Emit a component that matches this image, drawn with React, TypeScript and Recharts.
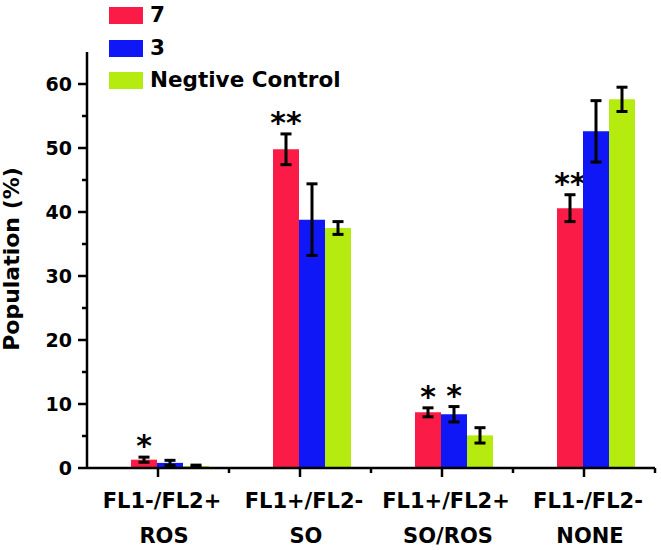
import React from 'react';
import { BarChart, Bar, XAxis, YAxis, Rectangle } from 'recharts';

const categories = ['FL1-/FL2+', 'FL1+/FL2-', 'FL1+/FL2+', 'FL1-/FL2-'];
const subLabels = ['ROS', 'SO', 'SO/ROS', 'NONE'];

const values7 = [1.3, 49.8, 8.7, 40.6];
const errors7 = [0.4, 2.4, 0.7, 2.1];
const stars7 = ['*', '**', '*', '**'];

const values3 = [0.8, 38.8, 8.4, 52.6];
const errors3 = [0.4, 5.6, 1.2, 4.8];
const stars3 = ['', '', '*', ''];

const valuesNeg = [0.3, 37.5, 5.1, 57.6];
const errorsNeg = [0.15, 1.0, 1.2, 1.9];
const starsNeg = ['', '', '', ''];

const yTicks = [0, 5, 10, 15, 20, 25, 30, 35, 40, 45, 50, 55, 60];

const FONT = '"DejaVu Sans", sans-serif';
const COLORS = { s7: '#FA1C46', s3: '#0F17F7', neg: '#B6EB0F' };

const data = categories.map((c, i) => ({
  name: c,
  sub: subLabels[i],
  v7: values7[i], e7: errors7[i], k7: stars7[i],
  v3: values3[i], e3: errors3[i], k3: stars3[i],
  vn: valuesNeg[i], en: errorsNeg[i], kn: starsNeg[i],
}));

// Origin-style grouping: first bar ends at the category tick
const SHIFT = 12;

const makeShape = (errKey: string, starKey: string) => (props: any) => {
  const { x, y, width, height, fill, payload, value } = props;
  const v = Array.isArray(value) ? value[1] - value[0] : value;
  const pxPerUnit = v ? height / v : 0;
  const err = payload[errKey] * pxPerUnit;
  const cx = x + SHIFT + width / 2;
  const top = y - err;
  const bot = y + err;
  const star = payload[starKey];
  return (
    <g>
      <Rectangle x={x + SHIFT} y={y} width={width} height={height} fill={fill} />
      <line x1={cx} x2={cx} y1={top} y2={bot} stroke="#000" strokeWidth={3} />
      <line x1={cx - 5.5} x2={cx + 5.5} y1={top} y2={top} stroke="#000" strokeWidth={3} />
      <line x1={cx - 5.5} x2={cx + 5.5} y1={bot} y2={bot} stroke="#000" strokeWidth={3} />
      {star && (
        <text x={cx} y={top - 1} textAnchor="middle" fontFamily={FONT} fontWeight="bold" fontSize={30} fill="#000">
          {star}
        </text>
      )}
    </g>
  );
};

const YTick = (props: any) => {
  const { x, y, payload } = props;
  const major = payload.value % 10 === 0;
  return (
    <g>
      <line x1={x - (major ? 9 : 5)} x2={x} y1={y} y2={y} stroke="#000" strokeWidth={2.5} />
      {major && (
        <text x={x - 15} y={y + 7} textAnchor="end" fontFamily={FONT} fontWeight="bold" fontSize={19} fill="#000">
          {payload.value}
        </text>
      )}
    </g>
  );
};

const XTick = (props: any) => {
  const { x, y, payload, index } = props;
  return (
    <g>
      <line x1={x} x2={x} y1={y} y2={y + 9} stroke="#000" strokeWidth={2.5} />
      <line x1={x + 71} x2={x + 71} y1={y} y2={y + 5} stroke="#000" strokeWidth={2.5} />
      <text x={x + 4} y={y + 40} textAnchor="middle" fontFamily={FONT} fontWeight="bold" fontSize={21} fill="#000">
        {payload.value}
      </text>
      <text x={x + 6} y={y + 75} textAnchor="middle" fontFamily={FONT} fontWeight="bold" fontSize={21} fill="#000">
        {subLabels[index]}
      </text>
    </g>
  );
};

const legendItems = [
  { label: '7', color: COLORS.s7 },
  { label: '3', color: COLORS.s3 },
  { label: 'Negtive Control', color: COLORS.neg },
];

const LegendBox = () => (
  <div style={{ position: 'absolute', left: 109, top: 7, width: 300, height: 95 }}>
    {legendItems.map((it, i) => (
      <div key={it.label} style={{ position: 'absolute', left: 0, top: i * 32.5, display: 'flex', alignItems: 'center' }}>
        <div style={{ width: 34, height: 17, backgroundColor: it.color }} />
        <span style={{ marginLeft: 7, fontFamily: FONT, fontWeight: 'bold', fontSize: 21.5, color: '#000', lineHeight: '17px', position: 'relative', top: -1 }}>
          {it.label}
        </span>
      </div>
    ))}
  </div>
);

export default function App() {
  return (
    <div style={{ position: 'absolute', left: 0, top: 0, width: 661, height: 550, background: '#fff' }}>
      <BarChart
        width={661}
        height={550}
        data={data}
        margin={{ top: 52, right: 6, bottom: 0, left: 0 }}
        barSize={26}
        barGap={0}
      >
        <XAxis
          dataKey="name"
          axisLine={{ stroke: '#000', strokeWidth: 2.5 }}
          tickLine={false}
          tickSize={0}
          tickMargin={0}
          tick={<XTick />}
          interval={0}
          height={82}
        />
        <YAxis
          type="number"
          domain={[0, 65]}
          ticks={yTicks}
          width={87}
          axisLine={{ stroke: '#000', strokeWidth: 2.5 }}
          tickLine={false}
          tickSize={0}
          tickMargin={0}
          tick={<YTick />}
          interval={0}
          label={{
            content: () => (
              <text
                x={19}
                y={259}
                transform="rotate(-90, 19, 259)"
                textAnchor="middle"
                fontFamily={FONT}
                fontWeight="bold"
                fontSize={22}
                fill="#000"
              >
                Population (%)
              </text>
            ),
          }}
        />
        <Bar dataKey="v7" fill={COLORS.s7} isAnimationActive={false} shape={makeShape('e7', 'k7')} />
        <Bar dataKey="v3" fill={COLORS.s3} isAnimationActive={false} shape={makeShape('e3', 'k3')} />
        <Bar dataKey="vn" fill={COLORS.neg} isAnimationActive={false} shape={makeShape('en', 'kn')} />
      </BarChart>
      <LegendBox />
    </div>
  );
}
